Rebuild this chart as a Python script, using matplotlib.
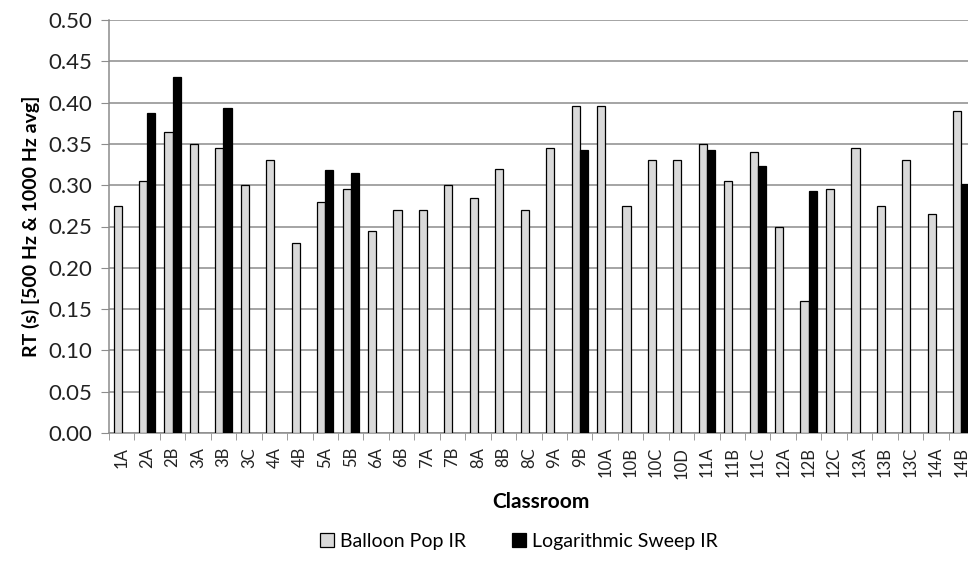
import numpy as np
import matplotlib.pyplot as plt
from matplotlib.ticker import FixedLocator

# classroom labels and reverberation times
classrooms = ['1A', '2A', '2B', '3A', '3B', '3C', '4A', '4B', '5A', '5B',
              '6A', '6B', '7A', '7B', '8A', '8B', '8C', '9A', '9B', '10A',
              '10B', '10C', '10D', '11A', '11B', '11C', '12A', '12B', '12C',
              '13A', '13B', '13C', '14A', '14B']

balloon = [0.275, 0.305, 0.365, 0.350, 0.345, 0.300, 0.330, 0.230, 0.280,
           0.295, 0.245, 0.270, 0.270, 0.300, 0.285, 0.320, 0.270, 0.345,
           0.396, 0.396, 0.275, 0.330, 0.330, 0.350, 0.305, 0.340, 0.250,
           0.160, 0.295, 0.345, 0.275, 0.330, 0.265, 0.390]

# nan where no sweep measurement was made
sweep = [np.nan, 0.387, 0.431, np.nan, 0.393, np.nan, np.nan, np.nan, 0.318,
         0.315, np.nan, np.nan, np.nan, np.nan, np.nan, np.nan, np.nan, np.nan,
         0.343, np.nan, np.nan, np.nan, np.nan, 0.343, np.nan, 0.323, np.nan,
         0.293, np.nan, np.nan, np.nan, np.nan, np.nan, 0.301]

font = ['Lato', 'DejaVu Sans']
plt.rcParams['font.family'] = font

fig = plt.figure(figsize=(9.68, 5.8), dpi=100)
# axes runs a little past the right edge, like the cropped original
ax = fig.add_axes([109 / 968, 1 - 433 / 580, 865 / 968, 413 / 580])

x = np.arange(len(classrooms))
w = 0.32
ax.bar(x - w / 2, balloon, w, color='#d9d9d9', edgecolor='black',
       linewidth=0.9, label='Balloon Pop IR', zorder=3)
ax.bar(x + w / 2, sweep, w, color='black', edgecolor='black',
       linewidth=0.9, label='Logarithmic Sweep IR', zorder=3)

ax.set_xlim(-0.5, len(classrooms) - 0.5)
ax.set_ylim(0, 0.5)
ax.set_yticks(np.arange(0, 0.51, 0.05))
ax.set_yticklabels([f'{v:.2f}' for v in np.arange(0, 0.51, 0.05)],
                   fontsize=16, color='#222222')
ax.yaxis.grid(True, color='#8c8c8c', linewidth=1.1, zorder=0)
ax.tick_params(axis='y', length=6, color='#8c8c8c', pad=6)

ax.set_xticks(x)
ax.set_xticklabels(classrooms, rotation=90, fontsize=12, color='#222222')
ax.tick_params(axis='x', which='major', length=0, pad=10)
ax.xaxis.set_minor_locator(FixedLocator(np.arange(-0.5, len(classrooms), 1)))
ax.tick_params(axis='x', which='minor', length=5, color='#8c8c8c')

for side in ['top', 'right']:
    ax.spines[side].set_visible(False)
ax.spines['left'].set_color('#8c8c8c')
ax.spines['bottom'].set_color('#8c8c8c')
ax.spines['left'].set_linewidth(1.1)
ax.spines['bottom'].set_linewidth(1.1)

ax.set_ylabel('RT (s) [500 Hz & 1000 Hz avg]', fontsize=14,
              fontweight='bold', labelpad=6)
fig.text(541 / 968, 1 - 502 / 580, 'Classroom', fontsize=15,
         fontweight='bold', ha='center', va='center')

fig.legend(loc='center', bbox_to_anchor=(519 / 968, 1 - 541 / 580), ncol=2,
           frameon=False, fontsize=14, handlelength=0.7, handleheight=0.7,
           handletextpad=0.3, columnspacing=2.4)

fig.savefig('out.png', dpi=100)
